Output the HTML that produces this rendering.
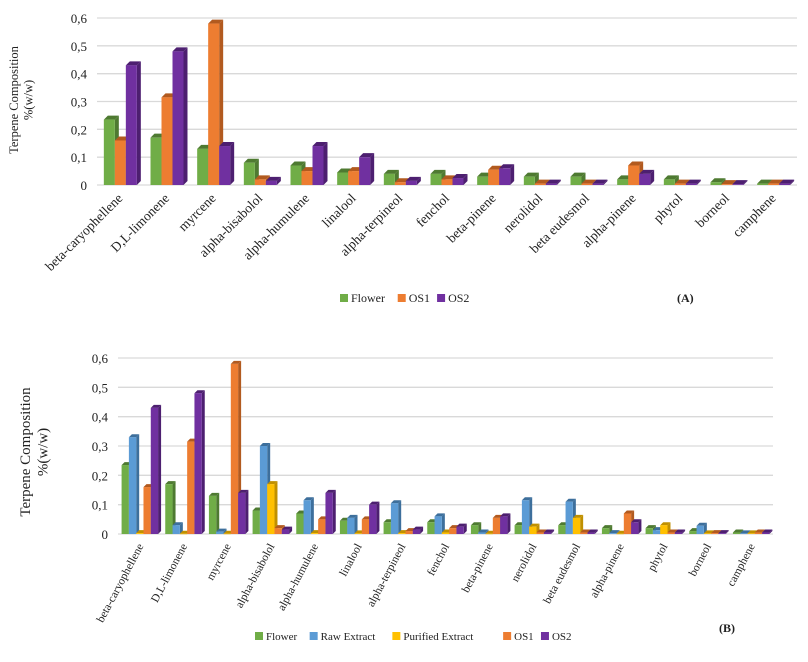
<!DOCTYPE html>
<html><head><meta charset="utf-8"><style>
body{margin:0;background:#fff;font-family:"Liberation Serif",serif;}
svg text{font-family:"Liberation Serif",serif;fill:#222;}
</style></head><body>
<svg id="svg" width="808" height="657" xmlns="http://www.w3.org/2000/svg"></svg>
<script>
const categories=["beta-caryophellene","D,L-limonene","myrcene","alpha-bisabolol","alpha-humulene","linalool","alpha-terpineol","fenchol","beta-pinene","nerolidol","beta eudesmol","alpha-pinene","phytol","borneol","camphene"];
const flower=[0.235,0.17,0.13,0.08,0.07,0.045,0.04,0.04,0.03,0.03,0.03,0.02,0.02,0.01,0.005];
const os1=[0.16,0.315,0.58,0.02,0.05,0.05,0.01,0.02,0.055,0.005,0.005,0.07,0.005,0.003,0.005];
const os2=[0.43,0.48,0.14,0.015,0.14,0.10,0.015,0.025,0.06,0.005,0.005,0.04,0.005,0.003,0.005];
const rawExtract=[0.33,0.03,0.008,0.30,0.115,0.055,0.105,0.06,0.005,0.115,0.11,0.003,0.013,0.028,0.002];
const purified=[0.003,0.001,0.001,0.17,0.003,0.002,0.003,0.005,0.001,0.025,0.055,0.001,0.03,0.002,0.002];
const yTicks=["0","0,1","0,2","0,3","0,4","0,5","0,6"];
const NS="http://www.w3.org/2000/svg";
const svg=document.getElementById('svg');
function el(tag,attrs,parent){const e=document.createElementNS(NS,tag);for(const k in attrs)e.setAttribute(k,attrs[k]);(parent||svg).appendChild(e);return e;}
const COLORS={flower:["#70ad47","#4e7a31"],raw:["#5b9bd5","#3d6f9c"],pur:["#ffc000","#c09000"],os1:["#ed7d31","#b25a1f"],os2:["#7030a0","#4d1f70"]};
function chart(cfg){
  const g=el('g',{});
  
  
  const y=v=>cfg.y0-v/0.6*(cfg.y0-cfg.y6);
  yTicks.forEach((t,i)=>{
    const yy=y(i*0.1);
    const l=el('line',{x1:cfg.x0,x2:cfg.x1,y1:yy,y2:yy,stroke:"#d9d9d9","stroke-width":1.3},g);
    
    const tx=el('text',{x:cfg.x0-10,y:yy+5,"text-anchor":"end","font-size":cfg.tick},g);
    
    tx.textContent=t;
  });
  const step=(cfg.x1-cfg.x0)/categories.length;
  const n=cfg.series.length, bw=cfg.bw, d=cfg.d;
  categories.forEach((c,i)=>{
    const cx=cfg.x0+step*(i+0.5);
    cfg.series.forEach((s,j)=>{
      const v=s.data[i];
      const bx=cx-n*bw/2+j*bw, top=y(v), bot=cfg.y0;
      const side=el('polygon',{points:`${bx+bw},${bot} ${bx+bw+d},${bot-d} ${bx+bw+d},${top-d} ${bx+bw},${top}`,fill:s.c[1]},g);
      
      const tp=el('polygon',{points:`${bx},${top} ${bx+d},${top-d} ${bx+bw+d},${top-d} ${bx+bw},${top}`,fill:s.c[1]},g);
      
      const r=el('rect',{x:bx,y:top,width:bw,height:Math.max(0.5,bot-top),fill:s.c[0]},g);
      
    });
    const ax=cx+cfg.lox, ay=cfg.y0+cfg.loy;
    const t=el('text',{x:ax,y:ay,"text-anchor":"end","font-size":cfg.lab,transform:`rotate(${cfg.ang} ${ax} ${ay})`},g);
    
    t.textContent=c;
  });
  const at=el('text',{"text-anchor":"middle","font-size":cfg.tfs,transform:`translate(${cfg.tx},${cfg.ty}) rotate(-90)`},g);
  
  const a1=el('tspan',{x:0,y:0},at);a1.textContent="Terpene Composition";
  const a2=el('tspan',{x:0,dy:cfg.tfs*1.15},at);a2.textContent="%(w/w)";
  let lx=cfg.lx;
  cfg.series.forEach(s=>{
    const sw=el('rect',{x:lx,y:cfg.ly-8,width:8,height:8,fill:s.c[0]},g);
    
    const lt=el('text',{x:lx+11,y:cfg.ly,"font-size":cfg.lfs},g);
    
    lt.textContent=s.label;
    lx+=11+s.label.length*cfg.lfs*0.51+10;
  });
  const p=el('text',{x:cfg.px,y:cfg.py,"font-size":12,"font-weight":"bold"},g);
  
  p.textContent=cfg.panel;
}
chart({name:'chart-a',x0:97,x1:797,y0:185,y6:18,bw:11,d:4,tick:13,lab:13.5,tfs:12.5,tx:18,ty:100,lx:340,ly:302,lfs:12,px:677,py:302,panel:"(A)",ang:-45,lox:3,loy:14,
 series:[{key:'flower',label:'Flower',data:flower,c:COLORS.flower},{key:'os1',label:'OS1',data:os1,c:COLORS.os1},{key:'os2',label:'OS2',data:os2,c:COLORS.os2}]});
chart({name:'chart-b',x0:118,x1:773,y0:534,y6:358,bw:7.3,d:3,tick:13,lab:11.5,tfs:15,tx:30,ty:452,lx:255,ly:640,lfs:11,px:719,py:632,panel:"(B)",ang:-62,lox:4,loy:12,
 series:[{key:'flower',label:'Flower',data:flower,c:COLORS.flower},{key:'raw',label:'Raw Extract',data:rawExtract,c:COLORS.raw},{key:'purified',label:'Purified Extract',data:purified,c:COLORS.pur},{key:'os1',label:'OS1',data:os1,c:COLORS.os1},{key:'os2',label:'OS2',data:os2,c:COLORS.os2}]});
</script>
</body></html>
